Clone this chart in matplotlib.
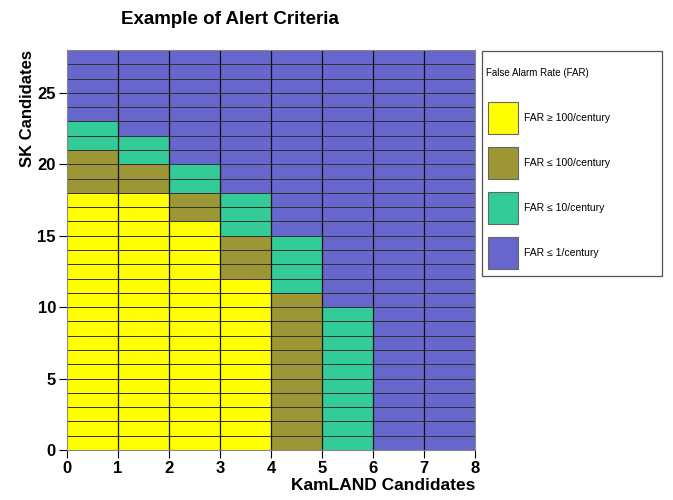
import numpy as np
import matplotlib
matplotlib.use("Agg")
import matplotlib.pyplot as plt
from matplotlib.colors import ListedColormap, BoundaryNorm
from matplotlib.patches import Rectangle

plt.rcParams["font.family"] = ["Liberation Sans", "DejaVu Sans"]

# KamLAND bins (0..8) and SK bins (0..28)
kamland_edges = np.arange(0, 9)
sk_edges = np.arange(0, 29)

# upper edge (in SK candidates) of each FAR class, per KamLAND bin
yellow_top = [18, 18, 16, 12, 0, 0, 0, 0]
olive_top = [21, 20, 18, 15, 11, 0, 0, 0]
green_top = [23, 22, 20, 18, 15, 10, 0, 0]

labels = ["FAR \u2265 100/century", "FAR \u2264 100/century",
          "FAR \u2264 10/century", "FAR \u2264 1/century"]
colors = ["#ffff00", "#9c9635", "#33cc99", "#6666cc"]

# class per cell: 0 yellow, 1 olive, 2 green, 3 blue
sk_centers = sk_edges[:-1] + 0.5
grid = np.full((len(sk_centers), len(yellow_top)), 3)
for i in range(len(yellow_top)):
    grid[sk_centers < green_top[i], i] = 2
    grid[sk_centers < olive_top[i], i] = 1
    grid[sk_centers < yellow_top[i], i] = 0

fig = plt.figure(figsize=(6.73, 5.0), dpi=100)
ax = fig.add_axes([67 / 673, 0.1, (475 - 67) / 673, 0.8])

cmap = ListedColormap(colors)
norm = BoundaryNorm([-0.5, 0.5, 1.5, 2.5, 3.5], cmap.N)
ax.pcolormesh(kamland_edges, sk_edges, grid, cmap=cmap, norm=norm,
              edgecolors="#333333", linewidth=0.45)
# heavier vertical lines
for x in kamland_edges[1:-1]:
    ax.axvline(x, color="#111111", lw=0.9)

ax.set_xlim(0, 8)
ax.set_ylim(0, 28)
ax.set_xticks(range(0, 9))
ax.set_yticks(range(0, 26, 5))
ax.tick_params(axis="both", direction="out", labelsize=12, length=6, width=0.8, pad=2)
for lab in ax.get_xticklabels() + ax.get_yticklabels():
    lab.set_fontweight("bold")
for s in ax.spines.values():
    s.set_color("#888888")
    s.set_linewidth(0.8)

ax.set_xlabel("KamLAND Candidates", fontsize=12.5, fontweight="bold", loc="right", labelpad=1)
ax.set_ylabel("SK Candidates", fontsize=12, fontweight="bold", loc="top", labelpad=2)
fig.text(230 / 673, 1 - 19 / 500, "Example of Alert Criteria", fontsize=13.5,
         fontweight="bold", ha="center", va="center")

# legend box
W, H = 673.0, 500.0
fig.patches.append(Rectangle((482 / W, 1 - 276 / H), (662 - 482) / W, (276 - 51) / H,
                             transform=fig.transFigure, fill=False,
                             edgecolor="#555555", lw=0.9))
fig.text(486 / W, 1 - 73 / H, "False Alarm Rate (FAR)", fontsize=7, va="center", ha="left")
for k, (lab, c) in enumerate(zip(labels, colors)):
    yc = 118 + 45 * k
    fig.patches.append(Rectangle((488 / W, 1 - (yc + 16) / H), 30 / W, 32 / H,
                                 transform=fig.transFigure, facecolor=c,
                                 edgecolor="#666666", lw=0.8))
    fig.text(524 / W, 1 - yc / H, lab, fontsize=7.5, va="center", ha="left")

fig.savefig("out.png", dpi=100)
